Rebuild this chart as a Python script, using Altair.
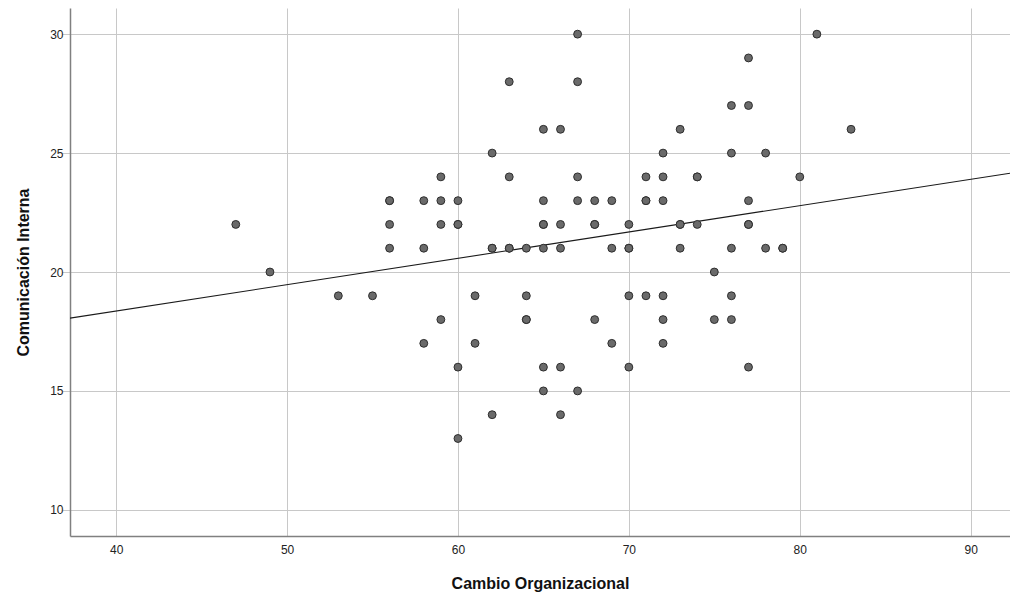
import altair as alt
import pandas as pd

# Cambio Organizacional (x) and Comunicación Interna (y) scores per respondent;
# repeated pairs are respondents sharing the same scores
cambio = [
    47, 49, 53, 55,
    56, 56, 56, 56,
    58, 58, 58,
    59, 59, 59, 59,
    60, 60, 60, 60, 60,
    61, 61,
    62, 62, 62, 62,
    63, 63, 63, 63,
    64, 64, 64, 64,
    65, 65, 65, 65, 65, 65, 65,
    66, 66, 66, 66, 66,
    67, 67, 67, 67, 67,
    68, 68, 68, 68,
    69, 69, 69,
    70, 70, 70, 70, 70,
    71, 71, 71, 71,
    72, 72, 72, 72, 72, 72,
    73, 73, 73, 73,
    74, 74, 74,
    75, 75,
    76, 76, 76, 76, 76,
    77, 77, 77, 77, 77, 77,
    78, 78,
    79, 79, 80, 81, 83,
]
comunicacion = [
    22, 20, 19, 19,
    23, 23, 22, 21,
    23, 21, 17,
    24, 23, 22, 18,
    23, 22, 22, 16, 13,
    19, 17,
    25, 21, 21, 14,
    28, 24, 21, 21,
    21, 19, 18, 18,
    26, 23, 22, 22, 21, 16, 15,
    26, 22, 21, 16, 14,
    30, 28, 24, 23, 15,
    23, 22, 22, 18,
    23, 21, 17,
    22, 21, 21, 19, 16,
    24, 23, 23, 19,
    25, 24, 23, 19, 18, 17,
    26, 22, 22, 21,
    24, 24, 22,
    20, 18,
    27, 25, 21, 19, 18,
    29, 27, 23, 22, 22, 16,
    25, 21,
    21, 21, 24, 30, 26,
]

x_domain = [37.3, 92.3]
y_domain = [8.9, 31.1]
x_ticks = [40, 50, 60, 70, 80, 90]
y_ticks = [10, 15, 20, 25, 30]

df = pd.DataFrame({"Cambio": cambio, "Comunicacion": comunicacion})

font = "Liberation Sans"

x_enc = alt.X(
    "Cambio:Q",
    title="Cambio Organizacional",
    scale=alt.Scale(domain=x_domain, nice=False, zero=False),
    axis=alt.Axis(
        values=x_ticks,
        ticks=False,
        labelPadding=8,
        titlePadding=20,
        grid=True,
    ),
)
y_enc = alt.Y(
    "Comunicacion:Q",
    title="Comunicación Interna",
    scale=alt.Scale(domain=y_domain, nice=False, zero=False),
    axis=alt.Axis(
        values=y_ticks,
        ticks=True,
        tickSize=8,
        labelPadding=-1,
        titlePadding=18,
        grid=True,
    ),
)

points = alt.Chart(df).mark_circle(
    size=62, color="#6a6a6a", opacity=1, stroke="#2e2e2e", strokeWidth=1
).encode(x=x_enc, y=y_enc)

# least-squares fit line across the full x range
fit = (
    alt.Chart(df)
    .transform_regression("Cambio", "Comunicacion", extent=x_domain)
    .mark_line(color="#1a1a1a", strokeWidth=1.1, clip=True)
    .encode(x=x_enc, y=y_enc)
)

chart = (
    alt.layer(fit, points)
    .properties(
        width=940,
        height=528,
        autosize=alt.AutoSizeParams(type="none"),
        padding={"left": 70, "top": 8, "right": 0, "bottom": 65},
    )
    .configure_view(stroke=None)
    .configure_axis(
        labelFont=font,
        titleFont=font,
        labelFontSize=12,
        titleFontSize=16,
        titleFontWeight="bold",
        labelColor="#222222",
        titleColor="#111111",
        gridColor="#c8c8c8",
        gridWidth=1,
        tickColor="#c8c8c8",
        domainColor="#808080",
        domainWidth=1.5,
    )
)

chart.save("out.html", embed_options={"renderer": "svg", "actions": False})
